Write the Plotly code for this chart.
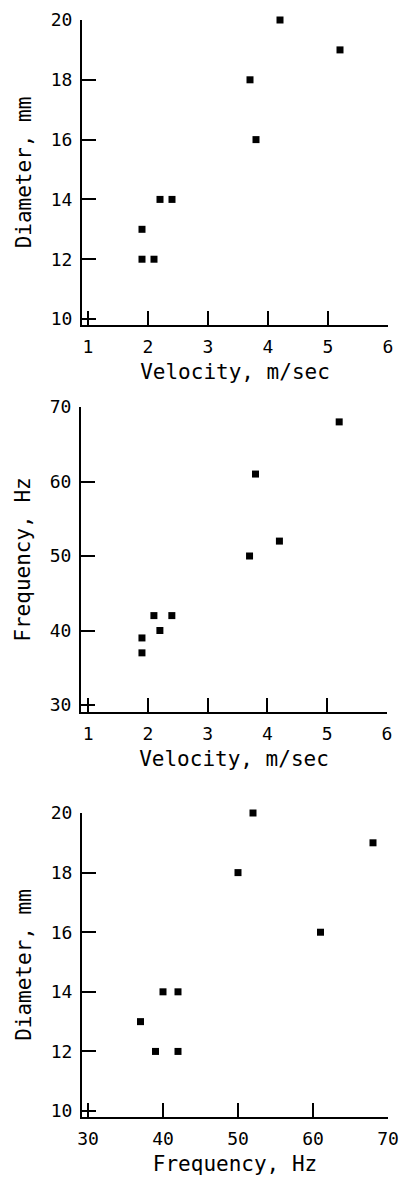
import plotly.graph_objects as go

# Data (9 samples)
velocity = [4.2, 5.2, 3.7, 3.8, 2.2, 2.4, 1.9, 1.9, 2.1]   # m/sec
diameter = [20, 19, 18, 16, 14, 14, 13, 12, 12]            # mm
frequency = [52, 68, 50, 61, 40, 42, 37, 39, 42]           # Hz

vel_ticks = [1, 2, 3, 4, 5, 6]
dia_ticks = [10, 12, 14, 16, 18, 20]
freq_ticks = [30, 40, 50, 60, 70]

W, H = 404, 1184
FONT = "DejaVu Sans Mono"

def px_x(a, b):
    return [a / W, b / W]

def px_y(top, bottom):
    return [1 - bottom / H, 1 - top / H]

fig = go.Figure()

marker = dict(symbol="square", size=7, color="black", line=dict(width=0))

fig.add_trace(go.Scatter(x=velocity, y=diameter, mode="markers", marker=marker, cliponaxis=False,
                         xaxis="x", yaxis="y", showlegend=False))
fig.add_trace(go.Scatter(x=velocity, y=frequency, mode="markers", marker=marker, cliponaxis=False,
                         xaxis="x2", yaxis="y2", showlegend=False))
fig.add_trace(go.Scatter(x=frequency, y=diameter, mode="markers", marker=marker, cliponaxis=False,
                         xaxis="x3", yaxis="y3", showlegend=False))

def axis(domain, rng, ticks, title, anchor, standoff):
    return dict(domain=domain, range=rng, tickvals=ticks, ticktext=[str(t) for t in ticks],
                showgrid=False, zeroline=False, showline=True, linecolor="black", linewidth=2,
                ticks="inside", ticklen=14, tickwidth=2, tickcolor="black",
                tickfont=dict(family=FONT, size=18, color="black"),
                ticklabelstandoff=4, automargin=False,
                title=dict(text=title, font=dict(family=FONT, size=21, color="black"), standoff=standoff),
                anchor=anchor, fixedrange=True)

fig.update_layout(
    width=W, height=H,
    margin=dict(l=0, r=0, t=0, b=0, autoexpand=False),
    paper_bgcolor="white", plot_bgcolor="white",
    xaxis=axis(px_x(82, 388), [0.9, 6.0], vel_ticks, "Velocity, m/sec", "y", 9),
    yaxis=axis(px_y(20, 325), [9.8, 20], dia_ticks, "Diameter, mm", "x", 13),
    xaxis2=axis(px_x(81, 387), [0.88, 6.0], vel_ticks, "Velocity, m/sec", "y2", 9),
    yaxis2=axis(px_y(407, 712), [29.06, 70], freq_ticks, "Frequency, Hz", "x2", 13),
    xaxis3=axis(px_x(82, 388), [29.2, 70], freq_ticks, "Frequency, Hz", "y3", 9),
    yaxis3=axis(px_y(813, 1117), [9.8, 20], dia_ticks, "Diameter, mm", "x3", 13),
)

fig.write_html("out.html")
